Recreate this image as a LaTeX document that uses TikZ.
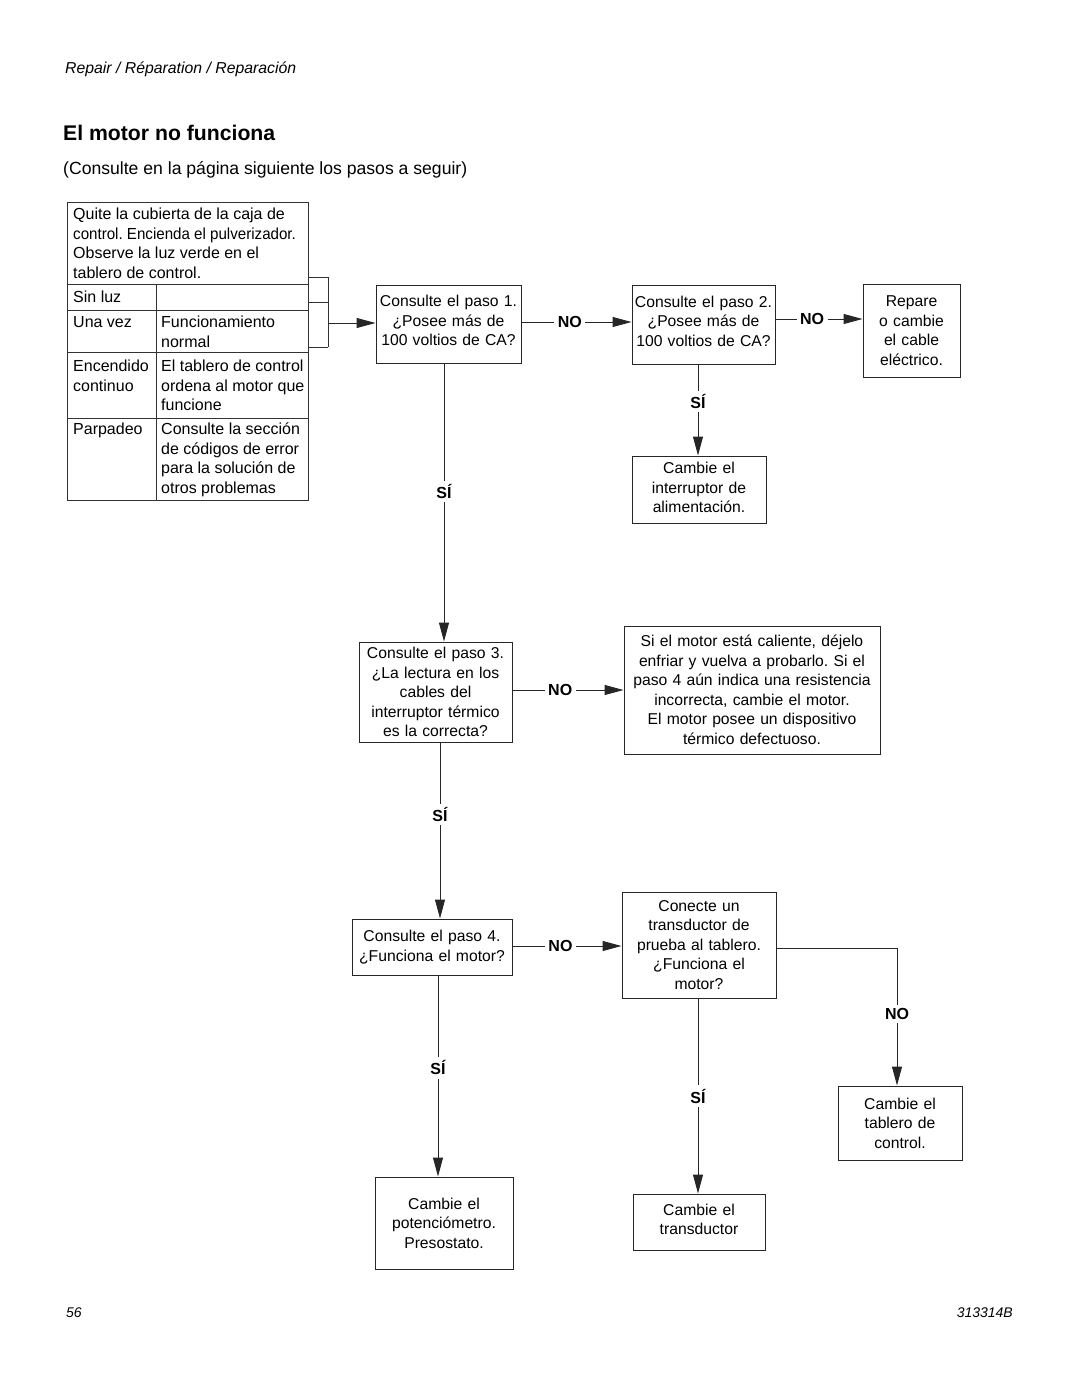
\documentclass[tikz,border=0pt]{standalone}
\usepackage{fontspec}
\usepackage{graphicx}
\setmainfont{Liberation Sans}
\newfontfamily\boxfont{Liberation Sans}[WordSpace=0.6]
\usetikzlibrary{arrows.meta,calc}
\newcommand{\tf}{\frenchspacing\fontsize{16}{19.5}\selectfont}
\newcommand{\bxf}{\boxfont\frenchspacing\fontsize{15.7}{19.5}\selectfont}
\newcommand{\dpx}[1]{\rule[-#1]{0pt}{0pt}}
\begin{document}
\begin{tikzpicture}[x=1pt,y=-1pt,
 box/.style={draw=black!85, line width=1pt, inner sep=0pt, align=center, font=\bxf},
 arr/.style={draw=black!85, line width=1pt, -{Triangle[length=19pt,width=10pt]}},
 ln/.style={draw=black!80, line width=1pt},
 lbl/.style={fill=white, inner sep=3.5pt, font=\bfseries\fontsize{16}{19}\selectfont},
 cell/.style={anchor=north west, inner sep=0pt, align=left, font=\tf}]
\useasboundingbox[fill=white] (0,0) rectangle (1080,1397);

% headings
\node[anchor=base west, inner sep=0pt, font=\itshape\fontsize{15.8}{18}\selectfont] (hdr) at (65,73.5) {Repair / Réparation / Reparación};
\node[anchor=base west, inner sep=0pt, font=\bfseries\fontsize{21.2}{25}\selectfont] (ttl) at (63,140.5) {El motor no funciona};
\node[anchor=base west, inner sep=0pt, font=\fontsize{17.6}{20}\selectfont] (sub) at (63,174) {(Consulte en la página siguiente los pasos a seguir)};
\node[anchor=base west, inner sep=0pt, font=\itshape\fontsize{14}{16}\selectfont] (pg) at (66,1317) {56};
\node[anchor=base east, inner sep=0pt, font=\itshape\fontsize{14}{16}\selectfont] (doc) at (1013,1317) {313314B};

% table
\draw[ln] (67,202) rectangle (308,500);
\draw[ln] (67,284) -- (308,284) (67,310) -- (308,310) (67,352) -- (308,352) (67,418) -- (308,418);
\draw[ln] (156,284) -- (156,500);
\node[cell] (c0) at (73,205.9) {\strut Quite la cubierta de la caja de\\\scalebox{0.945}[1]{control. Encienda el pulverizador.}\\Observe la luz verde en el\\tablero de control.};
\node[cell] (c1) at (73,288.9) {\strut Sin luz};
\node[cell] (c2) at (73,313.9) {\strut Una vez};
\node[cell] (c3) at (161,313.9) {\strut Funcionamiento\\normal};
\node[cell] (c4) at (73,357.9) {\strut Encendido\\continuo};
\node[cell] (c5) at (161,357.9) {\strut El tablero de control\\ordena al motor que\\funcione};
\node[cell] (c6) at (73,420.9) {\strut Parpadeo};
\node[cell] (c7) at (161,420.9) {\strut Consulte la sección\\de códigos de error\\para la solución de\\otros problemas};
\draw[ln] (308,277) -- (328,277) (308,302) -- (328,302) (308,347) -- (328,347) (328,277) -- (328,347);
\coordinate (bk) at (328,323);

% boxes
\node[box, text width=145pt, minimum height=78pt] (s1) at (448.5,324) {Consulte el paso 1.\\¿Posee más de\\100 voltios de CA?\dpx{7pt}};
\node[box, text width=143pt, minimum height=79pt] (s2) at (703.5,324.5) {Consulte el paso 2.\\¿Posee más de\\100 voltios de CA?\dpx{7pt}};
\node[box, text width=97pt, minimum height=93pt] (rep) at (911.5,330.5) {Repare\\o cambie\\el cable\\eléctrico.};
\node[box, text width=134pt, minimum height=67pt] (intr) at (699,489.5) {Cambie el\\interruptor de\\alimentación.\dpx{4pt}};
\node[box, text width=153pt, minimum height=100pt] (s3) at (435.5,692) {Consulte el paso 3.\\¿La lectura en los\\cables del\\interruptor térmico\\es la correcta?};
\node[box, text width=256pt, minimum height=128pt] (hot) at (752,690) {Si el motor está caliente, déjelo\\enfriar y vuelva a probarlo. Si el\\paso 4 aún indica una resistencia\\incorrecta, cambie el motor.\\El motor posee un dispositivo\\térmico defectuoso.};
\node[box, text width=160pt, minimum height=56pt] (s4) at (432,947) {Consulte el paso 4.\\¿Funciona el motor?\dpx{2pt}};
\node[box, text width=154pt, minimum height=106pt] (con) at (699,945) {Conecte un\\transductor de\\prueba al tablero.\\¿Funciona el\\motor?};
\node[box, text width=124pt, minimum height=74pt] (tab) at (900,1123) {Cambie el\\tablero de\\control.};
\node[box, text width=138pt, minimum height=92pt] (pot) at (444,1223) {Cambie el\\potenciómetro.\\Presostato.};
\node[box, text width=132pt, minimum height=56pt] (trd) at (699,1222) {Cambie el\\transductor\dpx{5pt}};

% connectors
\draw[arr] (bk) -- (bk -| s1.west);
\draw[arr] ([yshift=2pt]s1.east) -- node[lbl,pos=.44]{NO} ([yshift=2pt]s1.east -| s2.west);
\draw[arr] ([yshift=5.5pt]s2.east) -- node[lbl,pos=.42]{NO} ([yshift=5.5pt]s2.east -| rep.west);
\draw[arr] ([xshift=-5.5pt]s2.south) -- node[lbl,pos=.41]{SÍ} ([xshift=-5.5pt]s2.south |- intr.north);
\draw[arr] ([xshift=-4.5pt]s1.south) -- node[lbl,pos=.46]{SÍ} ([xshift=-4.5pt]s1.south |- s3.north);
\draw[arr] ([yshift=2pt]s3.east) -- node[lbl,pos=.43]{NO} ([yshift=2pt]s3.east -| hot.west);
\draw[arr] ([xshift=4.5pt]s3.south) -- node[lbl,pos=.41]{SÍ} ([xshift=4.5pt]s3.south |- s4.north);
\draw[arr] ([yshift=1pt]s4.east) -- node[lbl,pos=.44]{NO} ([yshift=1pt]s4.east -| con.west);
\draw[arr] ([xshift=6pt]s4.south) -- node[lbl,pos=.46]{SÍ} ([xshift=6pt]s4.south |- pot.north);
\draw[arr] ([xshift=-1pt]con.south) -- node[lbl,pos=.5]{SÍ} ([xshift=-1pt]con.south |- trd.north);
\draw[arr] ([yshift=-3pt]con.east) -| node[lbl,pos=.74]{NO} ([xshift=-3pt]tab.north);
\end{tikzpicture}
\end{document}
